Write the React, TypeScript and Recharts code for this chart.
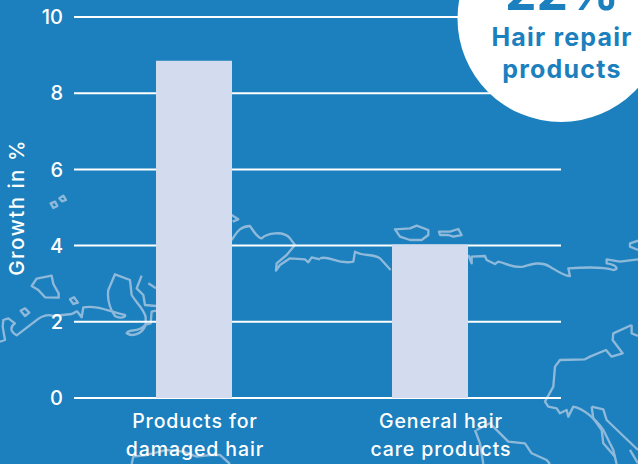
import React from "react";
import { BarChart, Bar, XAxis, YAxis, CartesianGrid, Cell } from "recharts";

const categories = ["Products for damaged hair", "General hair care products"];
const growth = [8.85, 4.03];
const yTicks = [0, 2, 4, 6, 8, 10];
const tickLines = [
  ["Products for", "damaged hair"],
  ["General hair", "care products"],
];
const tickShift = [1, 11];

const chartData = categories.map((name, i) => ({ name, value: growth[i] }));

const FONT = "Inter, sans-serif";
const BLUE = "#1b80bd";

// background map outlines, traced by eye in 3x crop coordinates
const mapLeft = [
  "M95 318 L110 296 L155 287 L160 312 L176 340 L176 353 L135 352 L115 330 Z",
  "M210 358 L222 352 L234 368 L220 372 Z",
  "M62 392 L75 385 L88 398 L75 408 Z",
  "M152 70 L165 65 L172 78 L160 84 Z",
  "M178 55 L190 47 L198 60 L186 64 Z",
  "M0 485 L15 480 L8 440 L10 420 L25 415 L45 430 C30 440 30 455 50 466 L100 428 C120 410 140 400 160 408 L215 402 C235 395 225 385 245 412 L250 382 C290 375 330 395 375 405 C380 410 360 418 345 408 C335 395 320 365 325 330 L345 283 L390 300 L395 345 C410 370 430 385 437 410 L437 435 C425 465 395 470 380 460 C385 445 415 460 435 435 L452 430 L455 395 L468 392",
  "M425 287 L410 325 L430 345 L435 375 L468 378",
  "M445 310 L468 325",
  "M695 105 L715 118 L698 125",
  "M695 180 C710 160 715 140 750 138 C765 160 775 175 785 175 C800 160 850 150 870 175 L885 195 L860 225 L830 250 L828 272 L840 255 L870 235 L915 238 L925 247 L935 232 L960 238",
  "M395 852 L400 830 L440 825 L500 810 L550 815 L590 830 L630 825 L660 825 L690 852",
];
const mapRight = [
  "M0 235 C30 225 50 255 100 245 L105 215 C130 230 160 220 180 235 L212 270",
  "M445 225 L455 250 L455 230 L495 228 L500 240 L525 252 L535 245 C560 250 580 265 610 260 C640 250 665 245 690 260 C715 275 735 290 750 288 L745 265 C790 262 850 260 880 270 C895 270 895 255 860 250 L860 238 L900 245 L954 238",
  "M954 182 L930 190 L930 200 L954 210",
  "M225 148 L270 145 L290 137 L325 150 L325 165 L305 180 L270 180 L240 170 Z",
  "M357 155 L390 155 L415 147 L425 165 L400 170 L385 165 L360 165 Z",
  "M935 435 L880 460 L878 480 L908 520 L875 530 L858 510 L810 530 L795 538 L720 540 L705 560 L700 620 L675 665 L685 680 L710 685 L720 700 L740 690 L745 710 L760 680 C790 685 830 720 850 750 L880 810 L890 852",
  "M935 435 L935 460 L954 468",
  "M815 680 L850 688 L860 720 L954 810",
  "M815 680 L820 715 L845 750 L850 790 L885 830",
  "M930 810 L954 850",
  "M465 750 L480 790 L490 852",
  "M470 750 L510 730 L565 785 L615 790 L635 820 L680 840 L690 852",
];

const CategoryTick = (props: any) => {
  const { x, index } = props;
  return (
    <text textAnchor="middle" fill="#fff" fontFamily={FONT} fontSize={19.5} fontWeight={500} letterSpacing={0.9}>
      {tickLines[index].map((line, i) => (
        <tspan key={line} x={x + tickShift[index]} y={428 + i * 28}>
          {line}
        </tspan>
      ))}
    </text>
  );
};

const App: React.FC = () => {
  return (
    <div style={{ position: "fixed", left: 0, top: 0, width: 638, height: 464, background: BLUE, overflow: "hidden" }}>
      <svg width={638} height={464} style={{ position: "absolute", left: 0, top: 0 }}>
        <g fill="none" stroke="#8fb9da" strokeWidth={7} strokeLinejoin="round">
          <g transform="translate(0,180) scale(0.3333)">
            {mapLeft.map((d) => <path key={d} d={d} />)}
          </g>
          <g transform="translate(320,180) scale(0.3333)">
            {mapRight.map((d) => <path key={d} d={d} />)}
          </g>
        </g>
      </svg>
      <div style={{ position: "absolute", left: 0, top: 0 }}>
        <BarChart
          width={638}
          height={464}
          data={chartData}
          margin={{ top: 17, right: 77, bottom: 0, left: 0 }}
        >
          <CartesianGrid horizontal vertical={false} stroke="#fff" strokeWidth={2} />
          <XAxis
            dataKey="name"
            height={66}
            axisLine={false}
            tickLine={false}
            interval={0}
            padding={{ left: 2, right: 13 }}
            tick={<CategoryTick />}
          />
          <YAxis
            width={74}
            domain={[0, 10]}
            ticks={yTicks}
            axisLine={false}
            tickLine={false}
            tickSize={0}
            tickMargin={11}
            tick={{ fill: "#fff", fontSize: 20, fontWeight: 500, fontFamily: FONT }}
            label={{
              value: "Growth in %",
              angle: -90,
              position: "insideLeft",
              offset: 17,
              fill: "#fff",
              fontSize: 20.5,
              fontWeight: 500,
              fontFamily: FONT,
              letterSpacing: 1.5,
              style: { textAnchor: "middle" },
            }}
          />
          <Bar dataKey="value" barSize={76} isAnimationActive={false}>
            {chartData.map((d) => (
              <Cell key={d.name} fill="#d2dcee" />
            ))}
          </Bar>
        </BarChart>
      </div>
      <svg width={638} height={464} style={{ position: "absolute", left: 0, top: 0 }}>
        <circle cx={561} cy={18.5} r={103.5} fill="#fff" />
        <g fill={BLUE} fontFamily={FONT} fontWeight={700} textAnchor="middle">
          <text x={562} y={10} fontSize={50}>22%</text>
          <text x={562} y={46} fontSize={25} letterSpacing={1.2}>Hair repair</text>
          <text x={562} y={78} fontSize={25} letterSpacing={1.2}>products</text>
        </g>
      </svg>
    </div>
  );
};

export default App;
